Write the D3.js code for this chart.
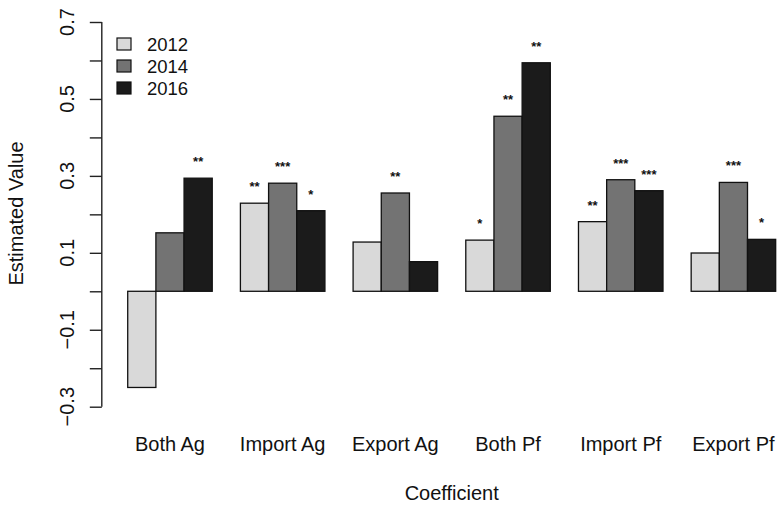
<!DOCTYPE html>
<html>
<head>
<meta charset="utf-8">
<script src="https://cdn.jsdelivr.net/npm/d3@7"></script>
<style>
  body { margin: 0; background: #fff; }
  svg text { font-family: "Liberation Sans", Arial, Helvetica, sans-serif; fill: #111; }
</style>
</head>
<body>
<div id="chart"></div>
<script>
// data
var categories = ["Both Ag", "Import Ag", "Export Ag", "Both Pf", "Import Pf", "Export Pf"];
var years = ["2012", "2014", "2016"];
var values2012 = [-0.25, 0.229, 0.128, 0.133, 0.181, 0.0995];
var values2014 = [0.152, 0.281, 0.2555, 0.455, 0.290, 0.283];
var values2016 = [0.294, 0.2095, 0.077, 0.594, 0.2615, 0.135];
var stars2012 = ["", "**", "", "*", "**", ""];
var stars2014 = ["", "***", "**", "**", "***", "***"];
var stars2016 = ["**", "*", "", "**", "***", "*"];
var yTicks = [-0.3, -0.2, -0.1, 0, 0.1, 0.2, 0.3, 0.4, 0.5, 0.6, 0.7];
var yTickLabels = ["\u22120.3", "\u22120.1", "0.1", "0.3", "0.5", "0.7"];
var fills = ["#d9d9d9", "#737373", "#1b1b1b"];

var W = 779, H = 506;
var svg = d3.select("#chart").append("svg").attr("width", W).attr("height", H);

// barplot units: every group = 3 bars + 1 gap (like R's space = c(0,1))
var x = d3.scaleLinear().domain([0.08, 24.92]).range([101.8, 801.6]);
var y = d3.scaleLinear().domain([-0.3, 0.7]).range([406.7, 22]);

var series = [values2012, values2014, values2016];
var stars = [stars2012, stars2014, stars2016];
var bars = [];
categories.forEach(function(c, i) {
  years.forEach(function(yr, j) {
    bars.push({ g: i, s: j, v: series[j][i], star: stars[j][i], u: 1 + i * 4 + j });
  });
});

svg.append("g").selectAll("rect").data(bars).enter().append("rect")
  .attr("x", function(d) { return x(d.u); })
  .attr("width", function(d) { return x(d.u + 1) - x(d.u); })
  .attr("y", function(d) { return y(Math.max(0, d.v)); })
  .attr("height", function(d) { return Math.abs(y(d.v) - y(0)); })
  .attr("fill", function(d) { return fills[d.s]; })
  .attr("stroke", "#111")
  .attr("stroke-width", 1.3);

// significance stars
svg.append("g").selectAll("text").data(bars.filter(function(d) { return d.star; })).enter().append("text")
  .attr("x", function(d) { return x(d.u + 0.5); })
  .attr("y", function(d) { return y(d.v) - 12; })
  .attr("text-anchor", "middle")
  .style("font-size", "13px")
  .style("font-weight", "bold")
  .text(function(d) { return d.star; });

// y axis
var yAxis = d3.axisLeft(y).tickValues(yTicks).tickSize(12).tickFormat("");
var ga = svg.append("g").attr("transform", "translate(" + x(0.08) + ",0)").call(yAxis);
ga.select(".domain").attr("stroke", "#222").attr("stroke-width", 1.4).attr("d", "M0," + y(0.7) + "V" + y(-0.3));
ga.selectAll(".tick line").attr("stroke", "#222").attr("stroke-width", 1.4);

svg.append("g").selectAll("text").data(yTicks.filter(function(t, i) { return i % 2 === 0; })).enter().append("text")
  .attr("transform", function(d) { return "translate(74," + y(d) + ") rotate(-90)"; })
  .attr("text-anchor", "middle")
  .style("font-size", "20px")
  .text(function(d, i) { return yTickLabels[i]; });

// category labels
svg.append("g").selectAll("text").data(categories).enter().append("text")
  .attr("x", function(d, i) { return x(1 + i * 4 + 1.5); })
  .attr("y", 451)
  .attr("text-anchor", "middle")
  .style("font-size", "20px")
  .text(function(d) { return d; });

svg.append("text")
  .attr("x", x(12.5)).attr("y", 500)
  .attr("text-anchor", "middle")
  .style("font-size", "20px")
  .text("Coefficient");

svg.append("text")
  .attr("transform", "translate(23," + 213.5 + ") rotate(-90)")
  .attr("text-anchor", "middle")
  .style("font-size", "20px")
  .text("Estimated Value");

// legend
var leg = svg.append("g").selectAll("g").data(years).enter().append("g")
  .attr("transform", function(d, i) { return "translate(117," + (44 + i * 22) + ")"; });
leg.append("rect").attr("x", 0).attr("y", -6).attr("width", 14).attr("height", 12)
  .attr("fill", function(d, i) { return fills[i]; })
  .attr("stroke", "#111").attr("stroke-width", 1.2);
leg.append("text").attr("x", 30).attr("y", 6.5)
  .style("font-size", "18.5px")
  .text(function(d) { return d; });
</script>
</body>
</html>
